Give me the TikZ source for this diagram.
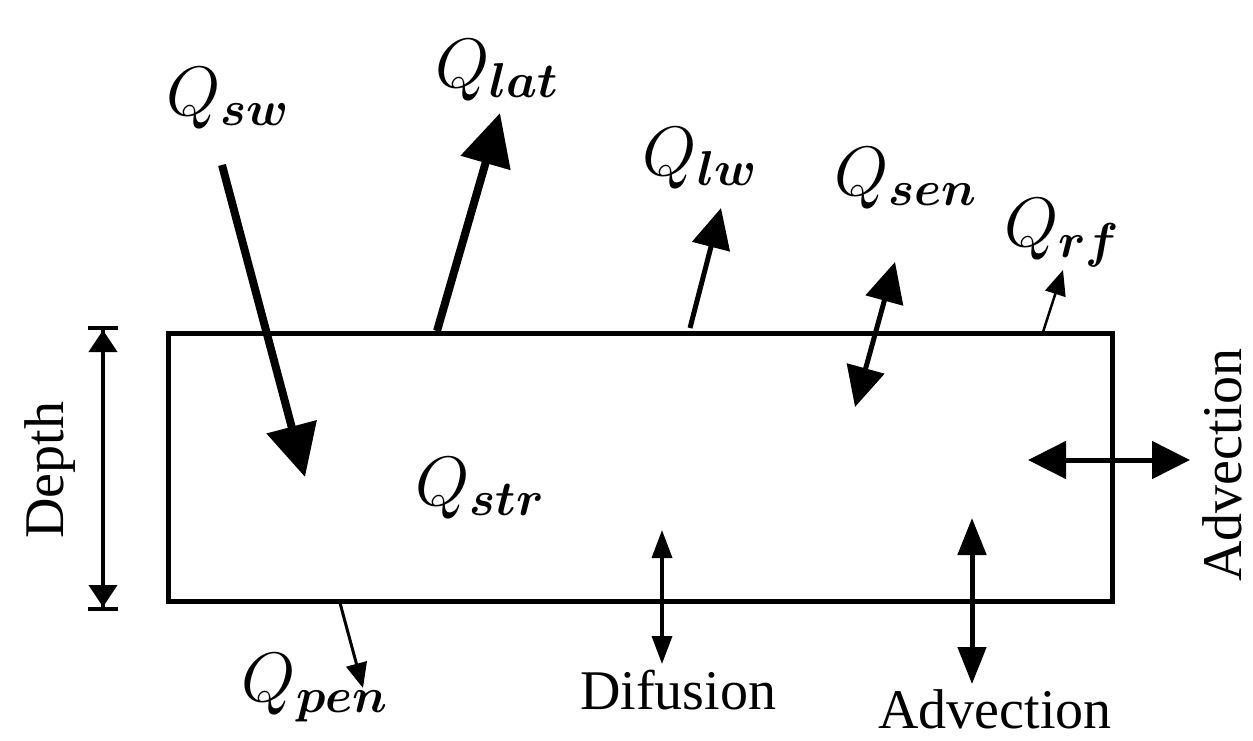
\RequirePackage{fix-cm}
\documentclass[tikz,border=0pt]{standalone}
\usepackage{amsmath}
\usepackage{fontspec}
\usepackage{bm}
\newfontfamily\labelfont{Liberation Serif}
\usetikzlibrary{arrows.meta}
\tikzset
{
  layer/.style={draw=black,line width=5pt},
  bigflux/.style={draw=black,line width=8pt,-{Triangle[length=52pt,width=50pt]}},
  midflux/.style={draw=black,line width=5pt,-{Triangle[length=40pt,width=38pt]}},
  thinflux/.style={draw=black,line width=2.5pt,-{Triangle[length=25pt,width=21pt]}},
  fluxlabel/.style={font=\fontsize{70}{76}\selectfont,inner sep=0pt},
  textlabel/.style={font=\labelfont\fontsize{56}{60}\selectfont,inner sep=0pt}
}
\begin{document}
\begin{tikzpicture}[x=1pt,y=-1pt]
        \useasboundingbox (0,0) rectangle (1253,740);

        % Water layer
        \draw[layer] (168,333) rectangle (1112,601);
        \node[fluxlabel] (qstr) at (480,488) {$Q_{\bm{str}}$};

        % Depth of the layer
        \coordinate (dtop) at (103,326);
        \coordinate (dbot) at (103,611);
        \draw[line width=4pt,{Bar[width=30pt,line width=4pt]Triangle[length=22pt,width=28pt]}-{Triangle[length=22pt,width=28pt]Bar[width=30pt,line width=4pt]}] (dtop) -- (dbot);
        \node[textlabel,rotate=90] (depth) at (50,470) {Depth};

        % Shortwave in, latent heat out
        \node[fluxlabel] (qsw) at (228,98) {$Q_{\bm{sw}}$};
        \coordinate (sw0) at (222,165);
        \coordinate (sw1) at (305,477);
        \draw[bigflux] (sw0) -- (sw1);
        \node[fluxlabel] (qlat) at (497,70) {$Q_{\bm{lat}}$};
        \coordinate (lat0) at (437,331);
        \coordinate (lat1) at (500,113);
        \draw[bigflux] (lat0) -- (lat1);

        % Longwave and sensible heat
        \node[fluxlabel] (qlw) at (700,158) {$Q_{\bm{lw}}$};
        \coordinate (lw0) at (690,328);
        \coordinate (lw1) at (721,208);
        \draw[midflux] (lw0) -- (lw1);
        \node[fluxlabel] (qsen) at (906,178) {$Q_{\bm{sen}}$};
        \coordinate (sen0) at (855,407);
        \coordinate (sen1) at (895,262);
        \draw[midflux,{Triangle[length=40pt,width=38pt]}-{Triangle[length=40pt,width=38pt]}] (sen0) -- (sen1);

        % Rain and penetration
        \node[fluxlabel] (qrf) at (1062,233) {$Q_{\bm{rf}}$};
        \coordinate (rf0) at (1043,332);
        \coordinate (rf1) at (1063,270);
        \draw[thinflux] (rf0) -- (rf1);
        \node[fluxlabel] (qpen) at (315,688) {$Q_{\bm{pen}}$};
        \coordinate (pen0) at (340,603);
        \coordinate (pen1) at (363,688);
        \draw[thinflux,line width=3pt] (pen0) -- (pen1);

        % Exchange at the bottom and side
        \node[textlabel] (dif) at (678,690) {Difusion};
        \coordinate (dif0) at (662,530);
        \coordinate (dif1) at (662,664);
        \draw[line width=3.5pt,{Triangle[length=28pt,width=20pt]}-{Triangle[length=28pt,width=20pt]}] (dif0) -- (dif1);
        \node[textlabel] (advb) at (995,709) {Advection};
        \coordinate (advb0) at (972,518);
        \coordinate (advb1) at (972,684);
        \draw[line width=5pt,{Triangle[length=37pt,width=28pt]}-{Triangle[length=37pt,width=28pt]}] (advb0) -- (advb1);
        \node[textlabel,rotate=90] (advr) at (1222,465) {Advection};
        \coordinate (advr0) at (1028,460);
        \coordinate (advr1) at (1190,460);
        \draw[line width=5pt,{Triangle[length=38pt,width=37pt]}-{Triangle[length=38pt,width=37pt]}] (advr0) -- (advr1);
\end{tikzpicture}
\end{document}
